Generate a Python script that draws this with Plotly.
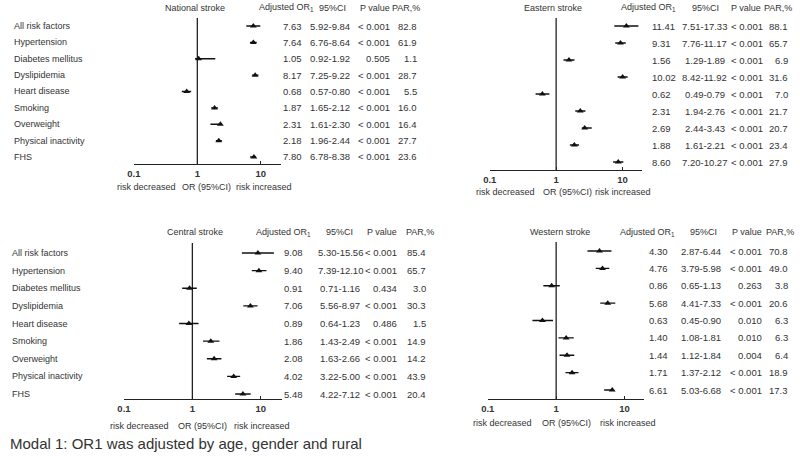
import plotly.graph_objects as go

W, H = 800, 457

factors = ["All risk factors", "Hypertension", "Diabetes mellitus", "Dyslipidemia",
           "Heart disease", "Smoking", "Overweight", "Physical inactivity", "FHS"]

# National stroke
nat_or = [7.63, 7.64, 1.05, 8.17, 0.68, 1.87, 2.31, 2.18, 7.80]
nat_lo = [5.92, 6.76, 0.92, 7.25, 0.57, 1.65, 1.61, 1.96, 6.78]
nat_hi = [9.84, 8.64, 1.92, 9.22, 0.80, 2.12, 2.30, 2.44, 8.38]
nat_p = ["< 0.001", "< 0.001", "0.505", "< 0.001", "< 0.001", "< 0.001", "< 0.001", "< 0.001", "< 0.001"]
nat_par = [82.8, 61.9, 1.1, 28.7, 5.5, 16.0, 16.4, 27.7, 23.6]

# Eastern stroke
eas_or = [11.41, 9.31, 1.56, 10.02, 0.62, 2.31, 2.69, 1.88, 8.60]
eas_lo = [7.51, 7.76, 1.29, 8.42, 0.49, 1.94, 2.44, 1.61, 7.20]
eas_hi = [17.33, 11.17, 1.89, 11.92, 0.79, 2.76, 3.43, 2.21, 10.27]
eas_p = ["< 0.001"] * 9
eas_par = [88.1, 65.7, 6.9, 31.6, 7.0, 21.7, 20.7, 23.4, 27.9]

# Central stroke
cen_or = [9.08, 9.40, 0.91, 7.06, 0.89, 1.86, 2.08, 4.02, 5.48]
cen_lo = [5.30, 7.39, 0.71, 5.56, 0.64, 1.43, 1.63, 3.22, 4.22]
cen_hi = [15.56, 12.10, 1.16, 8.97, 1.23, 2.49, 2.66, 5.00, 7.12]
cen_p = ["< 0.001", "< 0.001", "0.434", "< 0.001", "0.486", "< 0.001", "< 0.001", "< 0.001", "< 0.001"]
cen_par = [85.4, 65.7, 3.0, 30.3, 1.5, 14.9, 14.2, 43.9, 20.4]

# Western stroke
wes_or = [4.30, 4.76, 0.86, 5.68, 0.63, 1.40, 1.44, 1.71, 6.61]
wes_lo = [2.87, 3.79, 0.65, 4.41, 0.45, 1.08, 1.12, 1.37, 5.03]
wes_hi = [6.44, 5.98, 1.13, 7.33, 0.90, 1.81, 1.84, 2.12, 6.68]
wes_p = ["< 0.001", "< 0.001", "0.263", "< 0.001", "0.010", "0.010", "0.004", "< 0.001", "< 0.001"]
wes_par = [70.8, 49.0, 3.8, 20.6, 6.3, 6.3, 6.4, 18.9, 17.3]

tick_vals = [0.1, 1, 10]
tick_text = ["0.1", "1", "10"]

FONT = "Arial, Liberation Sans, sans-serif"
TXT = "#333333"
FS_NUM = 9.5   # numbers in the table columns
FS_TXT = 9     # words (labels, headers)

panels = [
    dict(name="National stroke", orv=nat_or, lo=nat_lo, hi=nat_hi, p=nat_p, par=nat_par,
         x01=128, xend=276, ppd=64, row0=26, rowsp=16.375, top=18, axis=164,
         labels_x=7, or_x=278, ci_x=326, p_x=386, par_x=414,
         h_adj=282, h_ci=328, h_p=371, h_par=403, title_x=190, head_y=8,
         bot=(141, 201, 259), bot_y=187),
    dict(name="Eastern stroke", orv=eas_or, lo=eas_lo, hi=eas_hi, p=eas_p, par=eas_par,
         x01=487, xend=641, ppd=67, row0=26, rowsp=17.0, top=18, axis=170,
         labels_x=None, or_x=651, ci_x=704, p_x=763, par_x=788,
         h_adj=647, h_ci=705, h_p=746, h_par=778, title_x=551, head_y=8,
         bot=(503, 565, 621), bot_y=192),
    dict(name="Central stroke", orv=cen_or, lo=cen_lo, hi=cen_hi, p=cen_p, par=cen_par,
         x01=118, xend=277, ppd=69, row0=253, rowsp=17.625, top=243, axis=399,
         labels_x=5, or_x=279, ci_x=336, p_x=393, par_x=423,
         h_adj=279, h_ci=335, h_p=378, h_par=417, title_x=190, head_y=232,
         bot=(134, 197, 257), bot_y=426),
    dict(name="Western stroke", orv=wes_or, lo=wes_lo, hi=wes_hi, p=wes_p, par=wes_par,
         x01=485, xend=643, ppd=69, row0=251, rowsp=17.375, top=242, axis=399,
         labels_x=None, or_x=648, ci_x=700, p_x=762, par_x=788,
         h_adj=646, h_ci=703, h_p=747, h_par=780, title_x=558, head_y=232,
         bot=(500, 564, 626), bot_y=423),
]

fig = go.Figure()
annotations = []


def px(x):
    return max(0.0, x / W)


def py(y):
    return 1 - y / H


def ann(text, x, y, xanchor="center", size=FS_TXT, color=TXT):
    if xanchor == "left":
        x -= 2
    elif xanchor == "right":
        x += 2
    annotations.append(dict(text=text, x=px(x), y=py(y),
                            xref="paper", yref="paper", xanchor=xanchor, yanchor="middle",
                            showarrow=False, font=dict(family=FONT, size=size, color=color)))


layout_axes = {}
for i, pn in enumerate(panels, start=1):
    xa = "x" if i == 1 else f"x{i}"
    ya = "y" if i == 1 else f"y{i}"
    xkey = "xaxis" if i == 1 else f"xaxis{i}"
    ykey = "yaxis" if i == 1 else f"yaxis{i}"
    x1 = pn["x01"] + pn["ppd"]
    rng_hi = (pn["xend"] - x1) / pn["ppd"]
    y_bottom = (pn["axis"] - pn["row0"]) / pn["rowsp"]
    y_top = (pn["top"] - pn["row0"]) / pn["rowsp"]
    layout_axes[xkey] = dict(domain=[px(pn["x01"]), px(pn["xend"])], type="log",
                             range=[-1, rng_hi], anchor=ya, showgrid=False, zeroline=False,
                             showline=True, linecolor="#222222", linewidth=1.3,
                             ticks="inside", ticklen=3, tickwidth=1.2, tickcolor="#222222",
                             tickvals=tick_vals, ticktext=tick_text,
                             tickfont=dict(family=FONT, size=FS_NUM, color=TXT, weight="bold"),
                             fixedrange=True)
    layout_axes[ykey] = dict(domain=[py(pn["axis"]), py(pn["top"])], range=[y_bottom, y_top],
                             anchor=xa, visible=False, fixedrange=True)

    rows = list(range(len(factors)))
    # reference line at OR = 1
    fig.add_trace(go.Scatter(x=[1, 1], y=[y_top, y_bottom], mode="lines", xaxis=xa, yaxis=ya,
                             line=dict(color="#222222", width=1.3), showlegend=False,
                             hoverinfo="skip", cliponaxis=False))
    # CI whiskers
    wx, wy = [], []
    for r, lo, hi in zip(rows, pn["lo"], pn["hi"]):
        wx += [lo, hi, None]
        wy += [r, r, None]
    fig.add_trace(go.Scatter(x=wx, y=wy, mode="lines", xaxis=xa, yaxis=ya,
                             line=dict(color="#111111", width=1.3), showlegend=False,
                             hoverinfo="skip", cliponaxis=False))
    # point estimates
    fig.add_trace(go.Scatter(x=pn["orv"], y=rows, mode="markers", xaxis=xa, yaxis=ya,
                             marker=dict(symbol="triangle-up", size=6, color="#111111"),
                             showlegend=False, cliponaxis=False))

    # headers
    ann(pn["name"], pn["title_x"], pn["head_y"])
    ann("Adjusted OR<sub>1</sub>", pn["h_adj"], pn["head_y"])
    ann("95%CI", pn["h_ci"], pn["head_y"])
    ann("P value", pn["h_p"], pn["head_y"])
    ann("PAR,%", pn["h_par"], pn["head_y"])

    # row texts
    for r in rows:
        yv = pn["row0"] + r * pn["rowsp"]
        if pn["labels_x"] is not None:
            ann(factors[r], pn["labels_x"], yv, xanchor="left")
        ann(f"{pn['orv'][r]:.2f}", pn["or_x"], yv, xanchor="left", size=FS_NUM)
        ann(f"{pn['lo'][r]:.2f}-{pn['hi'][r]:.2f}", pn["ci_x"], yv, size=FS_NUM)
        ann(pn["p"][r].replace("<", "&lt;"), pn["p_x"], yv, xanchor="right", size=FS_NUM)
        ann(f"{pn['par'][r]:.1f}", pn["par_x"], yv, xanchor="right", size=FS_NUM)

    # bottom labels
    b1, b2, b3 = pn["bot"]
    ann("risk decreased", b1, pn["bot_y"])
    ann("OR (95%CI)", b2, pn["bot_y"])
    ann("risk increased", b3, pn["bot_y"])

ann("Modal 1: OR1 was adjusted by age, gender and rural", 3, 443, xanchor="left", size=15)

fig.update_layout(width=W, height=H, margin=dict(l=0, r=0, t=0, b=0),
                  paper_bgcolor="white", plot_bgcolor="white",
                  annotations=annotations, showlegend=False, **layout_axes)

# remove the default 8px page margin so the figure fills the window exactly
fig.write_html("out.html", config={"displayModeBar": False, "staticPlot": True},
               post_script="document.body.style.margin='0px';")
